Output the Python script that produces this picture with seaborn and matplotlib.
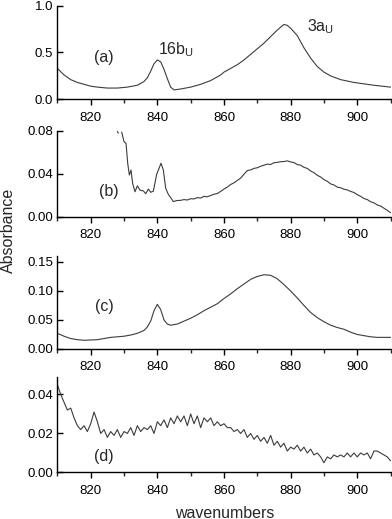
import numpy as np
import pandas as pd
import matplotlib
matplotlib.use("Agg")
import matplotlib.pyplot as plt
from matplotlib.ticker import MultipleLocator
import seaborn as sns

sns.set_style("ticks")
plt.rcParams['font.family'] = ['Liberation Sans', 'DejaVu Sans']

line_color = "#3c3c3c"

# (a) strong spectrum
wn_a = [810, 812, 814, 816, 818, 820, 822, 825, 828, 831, 834, 836, 837, 838, 839,
        840, 841, 842, 843, 844, 845, 847, 850, 853, 856, 859, 860, 862, 864, 866,
        868, 870, 872, 874, 876, 878, 879, 880, 882, 884, 886, 888, 890, 892, 895,
        899, 905, 910]
abs_a = [0.33, 0.26, 0.21, 0.18, 0.16, 0.14, 0.13, 0.12, 0.12, 0.13, 0.15, 0.19, 0.23, 0.30, 0.38,
         0.42, 0.40, 0.32, 0.22, 0.13, 0.10, 0.11, 0.13, 0.16, 0.20, 0.26, 0.29, 0.33, 0.37, 0.42,
         0.48, 0.54, 0.60, 0.67, 0.74, 0.80, 0.79, 0.76, 0.68, 0.55, 0.44, 0.35, 0.29, 0.25, 0.21,
         0.18, 0.15, 0.13]

# (b) weak, noisy spectrum (starts ~828)
wn_b = [828.0, 828.3,
        829.3, 830.0, 830.6, 831.1, 831.6, 832.1, 832.6, 833.3, 834.0, 834.8, 835.8, 836.5,
        837.3, 838.0, 838.8, 839.8, 841.1, 841.8, 842.5, 843.3, 844.0, 844.8, 845.8,
        847, 848, 849, 850, 851, 852, 853, 854, 855, 856, 857, 858, 859, 860, 861, 862,
        863, 864, 865, 866, 867, 868, 869, 870, 871, 872, 873, 874, 875, 876, 877, 878,
        879, 880, 881, 882, 883, 884, 885, 886, 887, 888, 889, 890, 891, 892, 893, 894,
        895, 896, 897, 898, 899, 900, 901, 902, 903, 904, 905, 906, 907, 908, 909, 910]
abs_b = [0.0795, 0.0780,
         0.079, 0.070, 0.0685, 0.050, 0.039, 0.0437, 0.031, 0.0235, 0.029, 0.025, 0.0243, 0.0216,
         0.026, 0.023, 0.024, 0.0397, 0.050, 0.0437, 0.0267, 0.021, 0.018, 0.0143, 0.0153,
         0.0155, 0.0162, 0.0158, 0.017, 0.0168, 0.018, 0.0176, 0.0192, 0.0188, 0.020, 0.0212, 0.0218,
         0.0238, 0.026, 0.0278, 0.0302, 0.0318, 0.034, 0.0362, 0.0398, 0.0432, 0.0438, 0.0452, 0.0458,
         0.0472, 0.0482, 0.0492, 0.0488, 0.0505, 0.0508, 0.0514, 0.0516, 0.0522, 0.0512, 0.0506, 0.0488,
         0.0482, 0.0462, 0.0452, 0.0428, 0.0412, 0.0388, 0.0372, 0.0348, 0.0332, 0.0308, 0.0298, 0.0278,
         0.0272, 0.0258, 0.0252, 0.0238, 0.0228, 0.0208, 0.0192, 0.0172, 0.0162, 0.0142, 0.0132, 0.0112,
         0.0102, 0.0082, 0.0062, 0.0040]
seg_b = [0, 0] + [1] * (len(wn_b) - 2)

# (c) smooth medium spectrum
wn_c = [810, 812, 814, 816, 818, 820, 822, 824, 826, 828, 830, 832, 834, 836, 837,
        838, 839, 840, 841, 842, 843, 844, 846, 848, 850, 852, 854, 856, 858, 860,
        862, 864, 866, 868, 870, 872, 874, 876, 878, 880, 882, 884, 886, 888, 890,
        892, 894, 896, 898, 900, 902, 904, 906, 908, 910]
abs_c = [0.027, 0.022, 0.018, 0.016, 0.015, 0.0155, 0.016, 0.018, 0.020, 0.021, 0.022, 0.024, 0.027, 0.032, 0.038,
         0.048, 0.066, 0.077, 0.068, 0.050, 0.043, 0.041, 0.043, 0.048, 0.053, 0.059, 0.066, 0.072, 0.078, 0.087,
         0.095, 0.104, 0.112, 0.120, 0.125, 0.128, 0.127, 0.121, 0.111, 0.100, 0.088, 0.075, 0.063, 0.054, 0.047,
         0.041, 0.037, 0.034, 0.029, 0.025, 0.023, 0.021, 0.020, 0.020, 0.020]

# (d) very weak noisy spectrum, 1 cm-1 steps from 810 to 910
wn_d = list(range(810, 911))
abs_d = [0.045, 0.040, 0.036, 0.032, 0.033, 0.028, 0.024, 0.022, 0.024, 0.021,
         0.025, 0.031, 0.026, 0.020, 0.022, 0.018, 0.021, 0.019, 0.022, 0.018,
         0.021, 0.020, 0.023, 0.019, 0.024, 0.021, 0.023, 0.022, 0.024, 0.020,
         0.026, 0.024, 0.027, 0.023, 0.028, 0.025, 0.029, 0.026, 0.029, 0.024,
         0.030, 0.025, 0.029, 0.023, 0.028, 0.026, 0.028, 0.024, 0.026, 0.024,
         0.025, 0.023, 0.023, 0.021, 0.022, 0.020, 0.022, 0.018, 0.020, 0.017,
         0.019, 0.016, 0.018, 0.015, 0.019, 0.014, 0.016, 0.013, 0.015, 0.011,
         0.013, 0.012, 0.014, 0.011, 0.013, 0.010, 0.012, 0.009, 0.010, 0.008,
         0.005, 0.008, 0.007, 0.009, 0.008, 0.009, 0.008, 0.010, 0.008, 0.010,
         0.008, 0.010, 0.009, 0.010, 0.007, 0.011, 0.011, 0.010, 0.009, 0.008,
         0.006]

panel_labels = ["(a)", "(b)", "(c)", "(d)"]
ylims = [(0, 1.0), (0, 0.08), (0, 0.16), (0, 0.049)]
ysteps = [0.5, 0.04, 0.05, 0.02]
yfmts = ["{:.1f}", "{:.2f}", "{:.2f}", "{:.2f}"]
label_pos = [(824, 0.45), (825.3, 0.0235), (824, 0.073), (824, 0.0083)]

# axes boxes in figure fraction: [left, bottom, width, height]
boxes = [[0.1464, 0.8087, 0.850, 0.1803],
         [0.1464, 0.5819, 0.850, 0.1657],
         [0.1464, 0.3276, 0.850, 0.1788],
         [0.1464, 0.0896, 0.850, 0.1842]]

fig = plt.figure(figsize=(3.92, 5.19), dpi=100)

frames = [
    pd.DataFrame({"wn": wn_a, "A": abs_a, "seg": 0}),
    pd.DataFrame({"wn": wn_b, "A": abs_b, "seg": seg_b}),
    pd.DataFrame({"wn": wn_c, "A": abs_c, "seg": 0}),
    pd.DataFrame({"wn": wn_d, "A": abs_d, "seg": 0}),
]

for i, df in enumerate(frames):
    ax = fig.add_axes(boxes[i])
    sns.lineplot(data=df, x="wn", y="A", units="seg", estimator=None,
                 color=line_color, linewidth=0.8, ax=ax, sort=False)
    ax.set_xlim(810, 910)
    ax.set_ylim(*ylims[i])
    ax.xaxis.set_major_locator(MultipleLocator(20))
    ax.xaxis.set_minor_locator(MultipleLocator(10))
    ax.yaxis.set_major_locator(MultipleLocator(ysteps[i]))
    ax.set_yticklabels([yfmts[i].format(t) for t in ax.get_yticks()])
    ax.set_xlabel("")
    ax.set_ylabel("")
    sns.despine(ax=ax)
    for s in ["left", "bottom"]:
        ax.spines[s].set_linewidth(1.0)
        ax.spines[s].set_color("black")
    ax.tick_params(axis="x", which="major", direction="out", length=4, width=1,
                   labelsize=9.5, pad=5, colors="black")
    ax.tick_params(axis="x", which="minor", direction="out", length=3, width=1)
    ax.tick_params(axis="y", which="major", direction="in", length=4, width=1,
                   labelsize=9.5, pad=3, colors="black")
    ax.set_ylim(*ylims[i])
    ax.text(label_pos[i][0], label_pos[i][1], panel_labels[i], fontsize=11.5,
            ha="center", va="center")
    if i == 0:
        ax.text(840.3, 0.53, r"16b$_\mathregular{U}$", fontsize=11.5, ha="left", va="center")
        ax.text(884.8, 0.78, r"3a$_\mathregular{U}$", fontsize=11.5, ha="left", va="center")

fig.text(8 / 392, 1 - 230 / 519, "Absorbance", rotation=90, fontsize=11.5,
         ha="center", va="center")
fig.text(225 / 392, 1 - 513 / 519, "wavenumbers", fontsize=11.5,
         ha="center", va="center")

fig.savefig("out.png", dpi=100)
